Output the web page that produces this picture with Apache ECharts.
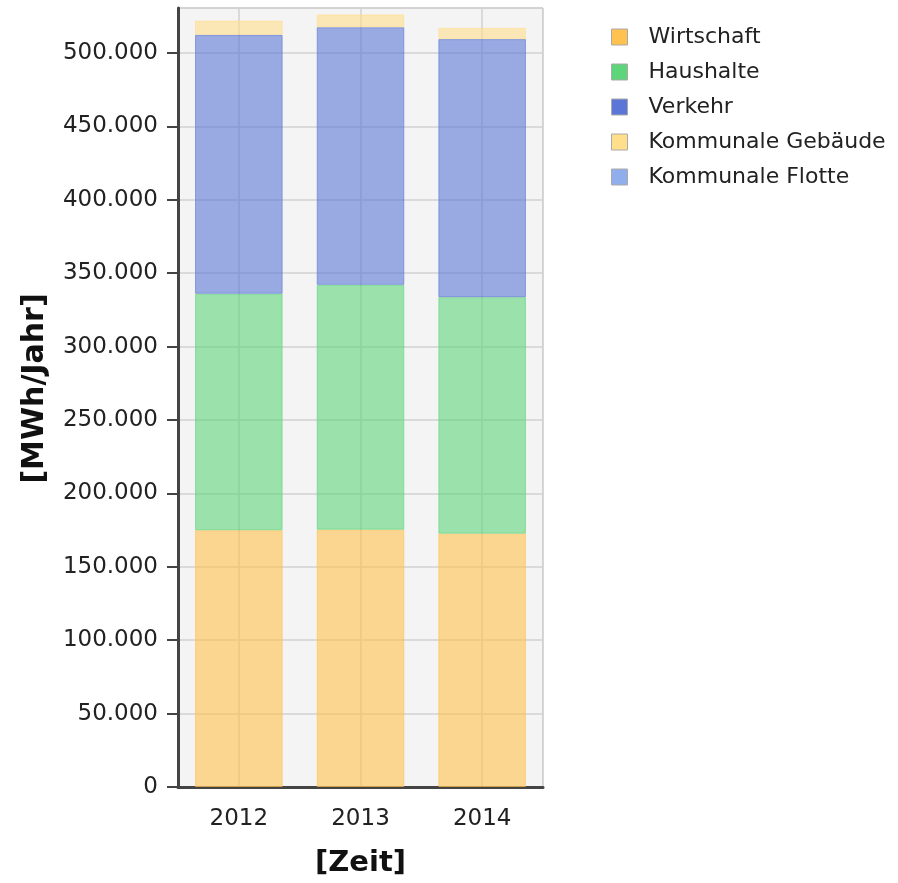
<!DOCTYPE html>
<html>
<head>
<meta charset="utf-8">
<script src="https://cdn.jsdelivr.net/npm/echarts@6/dist/echarts.min.js"></script>
<style>html,body{margin:0;padding:0;background:#fff}#c{width:898px;height:883px}</style>
</head>
<body>
<div id="c"></div>
<script>
const categories = ['2012', '2013', '2014'];
const wirtschaft = [174900, 175300, 172600];
const haushalte = [161100, 166800, 161100];
const verkehr = [176400, 175500, 175800];
const kommunaleGebaeude = [9700, 8700, 7700];
const kommunaleFlotte = [0, 0, 0];
const seriesNames = ['Wirtschaft', 'Haushalte', 'Verkehr', 'Kommunale Gebäude', 'Kommunale Flotte'];
const colors = ['#FFC24F', '#5ED47B', '#5B76D6', '#FFDE8C', '#8FAEEB'];
const yAxisName = '[MWh/Jahr]';
const xAxisName = '[Zeit]';

const dataSets = [wirtschaft, haushalte, verkehr, kommunaleGebaeude, kommunaleFlotte];
const chart = echarts.init(document.getElementById('c'));
const fmt = v => String(v).replace(/\B(?=(\d{3})+(?!\d))/g, '.');
chart.setOption({
  animation: false,
  textStyle: { fontFamily: 'DejaVu Sans' },
  grid: { left: 178, right: 355, top: 8, bottom: 93, show: true, backgroundColor: '#f4f4f4', borderColor: '#b0b0b0', borderWidth: 1 },
  legend: {
    orient: 'vertical', left: 606, top: 20, icon: 'rect', itemWidth: 16, itemHeight: 16, itemGap: 11,
    textStyle: { fontSize: 22, color: '#222', lineHeight: 24, padding: [0, 0, 0, 16] },
    itemStyle: { opacity: 1, borderColor: '#aaa', borderWidth: 1 },
    data: seriesNames
  },
  xAxis: {
    type: 'category', data: categories, name: xAxisName, nameLocation: 'middle', nameGap: 62,
    nameTextStyle: { fontSize: 29, fontWeight: 'bold', color: '#111' },
    axisLine: { lineStyle: { color: '#444', width: 3 } },
    axisTick: { alignWithLabel: true, length: 9, lineStyle: { color: '#444', width: 2 } },
    axisLabel: { fontSize: 23, color: '#222', margin: 21 },
    splitLine: { show: true, alignWithLabel: true, lineStyle: { color: '#d2d2d2', width: 1.5 } }
  },
  yAxis: {
    type: 'value', min: 0, max: 530700, interval: 50000, name: yAxisName, nameLocation: 'middle', nameGap: 128,
    nameTextStyle: { fontSize: 30, fontWeight: 'bold', color: '#111', padding: [0, 0, 0, 18] },
    axisLine: { show: true, lineStyle: { color: '#444', width: 3 } },
    axisTick: { show: true, length: 11, lineStyle: { color: '#444', width: 2 } },
    axisLabel: { fontSize: 23, color: '#222', margin: 20, showMaxLabel: false, formatter: v => fmt(v) },
    splitLine: { show: true, lineStyle: { color: '#d2d2d2', width: 1.5 } }
  },
  series: seriesNames.map((n, i) => ({
    name: n, type: 'bar', stack: 'total', barWidth: '72%', data: dataSets[i],
    itemStyle: { color: colors[i], opacity: 0.6, borderColor: colors[i], borderWidth: i === 4 ? 0 : 1 }
  }))
});
</script>
</body>
</html>
